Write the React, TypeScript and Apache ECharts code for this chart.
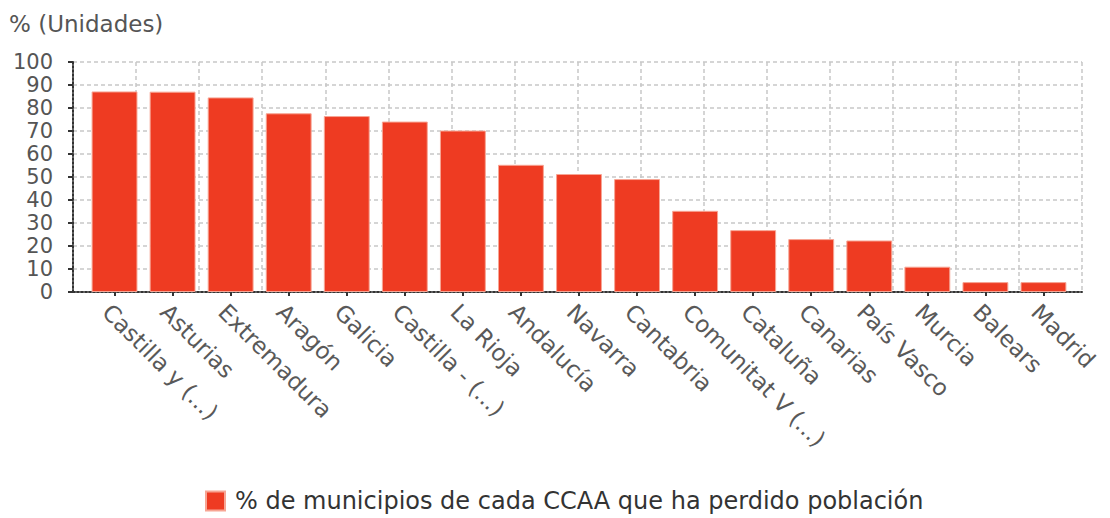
import React, { useEffect, useRef } from "react";
import * as echarts from "echarts";

const categories = [
  "Castilla y (...)",
  "Asturias",
  "Extremadura",
  "Aragón",
  "Galicia",
  "Castilla - (...)",
  "La Rioja",
  "Andalucía",
  "Navarra",
  "Cantabria",
  "Comunitat V (...)",
  "Cataluña",
  "Canarias",
  "País Vasco",
  "Murcia",
  "Balears",
  "Madrid",
];
const values = [87.2, 87.1, 84.6, 77.7, 76.5, 74.1, 70.2, 55.3, 51.3, 49.1, 35.3, 26.9, 23.0, 22.4, 11.0, 4.3, 4.3];
const seriesName = "% de municipios de cada CCAA que ha perdido población";
const unitLabel = "% (Unidades)";

const FONT = "'DejaVu Sans', Verdana, sans-serif";
const GRID_LINE = { color: "#c8c8c8", width: 1.5, type: [4, 3] as number[] };
const AXIS_LINE = { color: "#333", width: 2, type: [2, 2] as number[] };

export default function App() {
  const ref = useRef<HTMLDivElement>(null);
  useEffect(() => {
    if (!ref.current) return;
    const chart = echarts.init(ref.current, null, { renderer: "svg" });
    chart.setOption({
      animation: false,
      textStyle: { fontFamily: FONT },
      title: {
        text: unitLabel,
        left: 4,
        top: 7,
        textStyle: { fontFamily: FONT, fontSize: 23, fontWeight: "normal", color: "#555" },
      },
      grid: [
        { left: 73, right: 28, top: 62, bottom: 226, containLabel: false },
        { left: 85.5, right: 37.5, top: 62, bottom: 226, containLabel: false },
      ],
      legend: {
        top: 484,
        left: 200,
        icon: "rect",
        itemWidth: 19,
        itemHeight: 19,
        textStyle: { fontFamily: FONT, fontSize: 24, color: "#333", padding: [0, 0, 0, 5] },
        data: [seriesName],
      },
      xAxis: [
        {
          type: "value",
          gridIndex: 0,
          min: 0,
          max: 16,
          interval: 1,
          position: "bottom",
          axisLine: { show: true, onZero: false, lineStyle: AXIS_LINE },
          axisTick: { show: false },
          axisLabel: { show: false },
          splitLine: { show: true, lineStyle: GRID_LINE },
        },
        {
          type: "category",
          gridIndex: 1,
          data: categories,
          axisLine: { show: false },
          axisTick: { show: true, alignWithLabel: true, length: 4, lineStyle: { color: "#333", width: 2 } },
          axisLabel: {
            rotate: -45,
            fontSize: 23,
            color: "#595959",
            margin: 8,
            interval: 0,
            fontFamily: FONT,
            align: "left",
            verticalAlign: "top",
          },
          splitLine: { show: false },
        },
      ],
      yAxis: [
        {
          type: "value",
          gridIndex: 0,
          min: 0,
          max: 100,
          interval: 10,
          axisLine: { show: true, lineStyle: AXIS_LINE },
          axisTick: { show: true, length: 5, lineStyle: { color: "#333", width: 2 } },
          axisLabel: { fontSize: 21, color: "#555", margin: 20, fontFamily: FONT, lineHeight: 18 },
          splitLine: { show: true, lineStyle: GRID_LINE },
        },
        {
          type: "value",
          gridIndex: 1,
          min: 0,
          max: 100,
          interval: 10,
          axisLine: { show: false },
          axisTick: { show: false },
          axisLabel: { show: false },
          splitLine: { show: false },
        },
      ],
      series: [
        {
          name: seriesName,
          type: "bar",
          xAxisIndex: 1,
          yAxisIndex: 1,
          data: values,
          barCategoryGap: "21%",
          itemStyle: { color: "#EE3B22", borderColor: "#F7A594", borderWidth: 1 },
        },
      ],
    });
    return () => chart.dispose();
  }, []);
  return (
    <div
      ref={ref}
      style={{ position: "absolute", left: 0, top: 0, width: 1110, height: 518 }}
    />
  );
}
